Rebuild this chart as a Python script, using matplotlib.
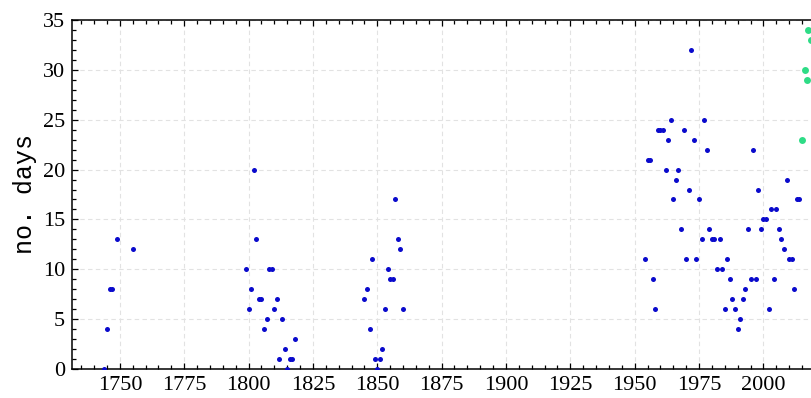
import matplotlib
matplotlib.use("Agg")
import matplotlib.pyplot as plt
from matplotlib.ticker import MultipleLocator

# blue series: year -> no. days
blue_years = [1744, 1745, 1746, 1747, 1749, 1755,
              1799, 1800, 1801, 1802, 1803, 1804, 1805, 1806, 1807, 1808, 1809,
              1810, 1811, 1812, 1813, 1814, 1815, 1816, 1817, 1818,
              1845, 1846, 1847, 1848, 1849, 1850, 1851, 1852, 1853, 1854, 1855,
              1856, 1857, 1858, 1859, 1860,
              1954, 1955, 1956, 1957, 1958, 1959, 1960, 1961, 1962, 1963, 1964,
              1965, 1966, 1967, 1968, 1969, 1970, 1971, 1972, 1973, 1974, 1975,
              1976, 1977, 1978, 1979, 1980, 1981, 1982, 1983, 1984, 1985, 1986,
              1987, 1988, 1989, 1990, 1991, 1992, 1993, 1994, 1995, 1996, 1997,
              1998, 1999, 2000, 2001, 2002, 2003, 2004, 2005, 2006, 2007, 2008,
              2009, 2010, 2011, 2012, 2013, 2014]
blue_days = [0, 4, 8, 8, 13, 12,
             10, 6, 8, 20, 13, 7, 7, 4, 5, 10, 10,
             6, 7, 1, 5, 2, 0, 1, 1, 3,
             7, 8, 4, 11, 1, 0, 1, 2, 6, 10, 9,
             9, 17, 13, 12, 6,
             11, 21, 21, 9, 6, 24, 24, 24, 20, 23, 25,
             17, 19, 20, 14, 24, 11, 18, 32, 23, 11, 17,
             13, 25, 22, 14, 13, 13, 10, 13, 10, 6, 11,
             9, 7, 6, 4, 5, 7, 8, 14, 9, 22, 9,
             18, 14, 15, 15, 6, 16, 9, 16, 14, 13, 12,
             19, 11, 11, 8, 17, 17]

# green series (recent years, cut at the right edge)
green_years = [2015, 2016, 2017, 2017.5, 2018.5]
green_days = [23, 30, 29, 34, 33]

x_major = list(range(1750, 2001, 25))

plt.rcParams['font.family'] = ['Liberation Serif', 'DejaVu Serif']

fig = plt.figure(figsize=(8.12, 3.98), dpi=100)
# axes run past the right edge of the figure, like the cropped original
ax = fig.add_axes([72 / 812, 29 / 398, 768.6 / 812, 349 / 398])

ax.plot(blue_years, blue_days, 'o', color='#0a0acc', markersize=3.6,
        markeredgewidth=0, zorder=3)
ax.plot(green_years, green_days, 'o', color='#2edc86', markersize=5,
        markeredgewidth=0, zorder=3)

ax.set_xlim(1731.4, 2030)
ax.set_ylim(0, 35)
ax.set_xticks(x_major)
ax.xaxis.set_minor_locator(MultipleLocator(5))
ax.yaxis.set_major_locator(MultipleLocator(5))
ax.yaxis.set_minor_locator(MultipleLocator(1))

ax.tick_params(which='both', direction='in', top=True, right=True,
               labelsize=16, width=0.9, colors='black')
ax.tick_params(which='major', length=4, pad=5)
ax.tick_params(which='minor', length=3)

ax.grid(True, which='major', linestyle=(0, (4, 3)), color='#e2e2e2',
        linewidth=0.8, zorder=0)

for s in ax.spines.values():
    s.set_linewidth(1.1)

ax.set_ylabel('no. days', family=['Liberation Mono', 'DejaVu Sans Mono'],
              fontsize=18, labelpad=4)

fig.savefig('out.png', dpi=100)
